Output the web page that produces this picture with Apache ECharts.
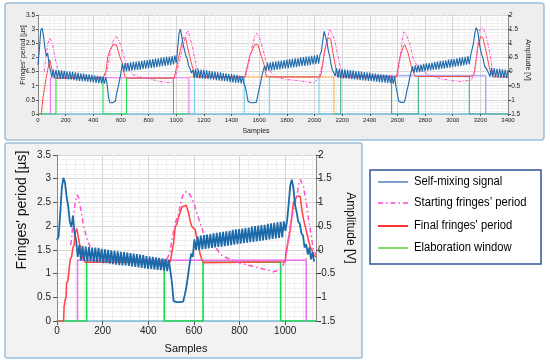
<!DOCTYPE html>
<html><head><meta charset="utf-8">
<script src="https://cdn.jsdelivr.net/npm/echarts/dist/echarts.min.js"></script>
<style>html,body{margin:0;padding:0;background:#fff}#c{width:550px;height:361px}</style>
</head><body><div id="c"></div>
<script>
// ---------- TOP CHART DATA (samples 0..3400) ----------
// Self-mixing signal [V], one value every 10 samples
const blueTopStep = 10;
const blueTopV = [
 0.24,0.80,1.45,1.54,1.25,0.85,0.55,0.65,0.25,0.05,
 -0.20,0.07,-0.23,0.06,-0.24,0.05,-0.25,0.04,-0.26,0.03,
 -0.27,0.01,-0.28,0.00,-0.29,-0.01,-0.30,-0.03,-0.32,-0.04,
 -0.33,-0.06,-0.34,-0.07,-0.35,-0.09,-0.36,-0.10,-0.37,-0.12,
 -0.38,-0.13,-0.40,-0.15,-0.41,-0.16,-0.42,-0.18,-0.43,-0.20,
 -0.45,-0.90,-1.10,-1.10,-1.10,-1.10,-1.05,-0.75,-0.55,-0.30,
 -0.05,0.28,0.00,0.30,0.01,0.31,0.02,0.33,0.03,0.34,
 0.05,0.35,0.06,0.37,0.07,0.38,0.09,0.40,0.10,0.41,
 0.12,0.43,0.13,0.44,0.14,0.46,0.16,0.47,0.17,0.49,
 0.19,0.50,0.20,0.52,0.22,0.53,0.23,0.55,0.25,0.57,
 0.30,0.80,1.35,1.50,1.25,0.95,0.75,0.55,0.45,0.20,
 0.10,-0.05,0.05,-0.22,0.10,-0.22,0.08,-0.24,0.07,-0.25,
 0.06,-0.26,0.04,-0.27,0.03,-0.28,0.01,-0.29,0.00,-0.30,
 -0.02,-0.32,-0.03,-0.33,-0.05,-0.34,-0.06,-0.35,-0.08,-0.37,
 -0.09,-0.38,-0.11,-0.39,-0.12,-0.40,-0.14,-0.42,-0.16,-0.44,
 -0.55,-0.80,-1.05,-1.10,-1.10,-1.10,-1.10,-1.10,-1.08,-0.85,
 -0.60,-0.40,-0.15,0.05,0.20,0.02,0.32,0.03,0.33,0.04,
 0.35,0.05,0.36,0.07,0.38,0.08,0.39,0.10,0.41,0.11,
 0.42,0.12,0.44,0.14,0.45,0.15,0.47,0.16,0.48,0.18,
 0.50,0.19,0.51,0.20,0.53,0.22,0.54,0.23,0.56,0.25,
 0.57,0.26,0.59,0.28,0.60,0.70,1.10,1.42,1.40,1.05,
 0.75,0.55,0.25,0.05,0.10,-0.15,0.12,-0.22,0.10,-0.23,
 0.09,-0.24,0.08,-0.25,0.06,-0.26,0.05,-0.27,0.04,-0.28,
 0.02,-0.29,0.01,-0.30,0.00,-0.31,-0.02,-0.32,-0.03,-0.33,
 -0.04,-0.34,-0.06,-0.35,-0.07,-0.36,-0.08,-0.37,-0.10,-0.38,
 -0.11,-0.39,-0.12,-0.40,-0.14,-0.41,-0.15,-0.43,-0.17,-0.55,
 -0.80,-1.05,-1.09,-1.09,-1.09,-1.08,-0.90,-0.65,-0.45,-0.20,
 0.00,0.18,-0.05,0.22,-0.03,0.24,-0.02,0.25,0.00,0.27,
 0.01,0.29,0.03,0.30,0.04,0.32,0.06,0.34,0.07,0.35,
 0.08,0.37,0.10,0.39,0.11,0.40,0.13,0.42,0.14,0.44,
 0.16,0.45,0.17,0.47,0.19,0.49,0.20,0.50,0.22,0.52,
 0.24,0.55,0.26,0.58,0.65,1.00,1.35,1.55,1.45,1.10,
 0.80,0.60,0.45,0.20,0.25,0.05,0.12,-0.18,0.13,-0.20,
 0.12,-0.20,0.10,-0.21,0.10,-0.22,0.08,-0.22,0.07,-0.23,
 0.05
];
// Final fringes' period [µs] : [sample, value]
const finalTop = [[0,0],[24,0],[30,0.3],[36,0.59],[45,0.85],[52,1.05],[61,1.33],[72,1.6],[85,1.92],[92,1.96],[100,1.6],[110,1.35],[125,1.27],[470,1.27],[490,1.5],[506,2.04],[520,2.25],[543,2.45],[567,2.45],[591,2.04],[610,1.8],[627,1.33],[645,1.27],[985,1.27],[1000,1.6],[1025,2.16],[1049,2.69],[1068,2.69],[1080,2.4],[1097,2.04],[1115,1.7],[1134,1.39],[1146,1.31],[1495,1.31],[1515,1.7],[1531,2.04],[1567,2.45],[1591,2.45],[1616,2.04],[1635,1.75],[1652,1.33],[1676,1.31],[2040,1.31],[2050,1.45],[2074,2.27],[2098,2.69],[2117,2.65],[2134,2.16],[2159,1.5],[2176,1.31],[2593,1.31],[2617,1.98],[2640,2.35],[2653,2.45],[2677,2.16],[2701,1.68],[2725,1.35],[2740,1.33],[3130,1.33],[3154,1.39],[3183,2.39],[3202,2.74],[3219,2.69],[3244,2.16],[3268,1.57],[3292,1.31],[3400,1.31]];
// Starting fringes' period [µs]
const startTop = [[45,1.5],[60,2.1],[72,2.51],[85,2.69],[104,2.51],[121,2.04],[145,1.51],[165,1.35],[200,1.3],[480,1.3],[500,1.5],[520,2.1],[545,2.6],[565,2.75],[590,2.55],[615,2.16],[639,1.74],[665,1.5],[688,1.39],[730,1.32],[784,1.27],[881,1.15],[965,1.1],[989,1.27],[1010,1.6],[1030,2.0],[1049,2.4],[1073,2.86],[1085,2.95],[1100,2.7],[1121,2.27],[1146,1.68],[1170,1.39],[1200,1.3],[1500,1.3],[1525,1.8],[1550,2.4],[1570,2.75],[1585,2.86],[1604,2.69],[1628,2.27],[1652,1.8],[1688,1.45],[1720,1.3],[1800,1.22],[1900,1.17],[1990,1.1],[2030,1.25],[2060,1.8],[2090,2.6],[2110,3.0],[2122,3.05],[2146,2.63],[2170,2.04],[2195,1.5],[2232,1.27],[2600,1.3],[2620,2.0],[2635,2.6],[2645,2.9],[2660,2.85],[2689,2.51],[2713,1.98],[2749,1.63],[2822,1.39],[2918,1.24],[3000,1.18],[3063,1.15],[3135,1.2],[3160,1.5],[3171,1.92],[3185,2.6],[3195,2.98],[3219,3.05],[3244,2.74],[3268,2.16],[3292,1.45],[3328,1.33],[3400,1.3]];
// Elaboration windows, one per cycle
const windowTop1 = [[0,0],[130,0],[130,1.27],[470,1.27],[470,0],[640,0],[640,1.27],[980,1.27],[980,0],[1092,0]];
const windowTop2 = [[1092,0],[1133,0],[1133,1.31],[1492,1.31],[1492,0],[1673,0],[1673,1.31],[2033,1.31],[2033,0],[2141,0]];
const windowTop3 = [[2141,0],[2190,0],[2190,1.33],[2558,1.33],[2558,0],[2751,0],[2751,1.33],[3120,1.33],[3120,0],[3400,0]];
// Cycle markers (start level / end)
const markTop1 = [[90,0],[90,1.28],[1092,1.28],[1092,0]];
const markTop2 = [[1092,1.31],[2141,1.31],[2141,0]];
const markTop3 = [[2141,1.35],[3239,1.35],[3239,0]];

// ---------- BOTTOM CHART DATA (samples 0..1135) ----------
const blueBotStep = 7;
const blueBotV = [
 0.21,0.28,0.75,1.30,1.52,1.42,1.12,0.92,0.60,0.48,
 0.72,0.35,0.20,-0.15,0.10,-0.22,0.08,-0.23,0.07,-0.25,
 0.06,-0.24,0.05,-0.26,0.05,-0.26,0.04,-0.25,0.02,-0.28,
 0.01,-0.28,0.00,-0.29,-0.01,-0.30,-0.02,-0.31,-0.03,-0.32,
 -0.04,-0.33,-0.05,-0.33,-0.06,-0.34,-0.07,-0.35,-0.08,-0.36,
 -0.09,-0.37,-0.10,-0.38,-0.11,-0.39,-0.13,-0.40,-0.14,-0.40,
 -0.15,-0.41,-0.16,-0.42,-0.17,-0.43,-0.18,-0.44,-0.19,-0.45,
 -0.21,-0.45,-0.70,-1.08,-1.10,-1.10,-1.10,-1.10,-1.10,-1.09,
 -0.95,-0.78,-0.55,-0.30,-0.08,-0.15,0.22,0.00,0.28,0.00,
 0.30,0.01,0.31,0.02,0.32,0.03,0.33,0.04,0.35,0.05,
 0.36,0.06,0.37,0.07,0.38,0.08,0.39,0.09,0.40,0.10,
 0.42,0.11,0.43,0.12,0.44,0.13,0.45,0.14,0.46,0.15,
 0.47,0.16,0.49,0.17,0.50,0.18,0.51,0.19,0.52,0.20,
 0.53,0.21,0.55,0.22,0.56,0.23,0.57,0.24,0.58,0.25,
 0.59,0.26,0.60,0.40,0.60,0.95,1.35,1.48,1.30,0.95,
 0.80,0.60,0.55,0.35,0.30,0.05,0.12,-0.10,0.05,-0.20,
 -0.05,-0.25
];
const finalBot = [[0,0],[29,0],[31,0.3],[36,0.45],[40,0.5],[42,0.8],[48,0.85],[52,1.05],[58,1.3],[64,1.35],[70,1.55],[75,1.6],[80,1.85],[87,1.95],[94,1.97],[96,1.7],[102,1.55],[108,1.4],[117,1.29],[125,1.24],[470,1.24],[497,1.25],[505,1.5],[511,1.64],[518,1.99],[526,2.05],[533,2.2],[540,2.3],[548,2.41],[556,2.44],[566,2.44],[572,2.35],[577,2.27],[584,2.1],[591,1.99],[606,1.92],[613,1.75],[620,1.57],[628,1.4],[635,1.29],[642,1.23],[1000,1.25],[1004,1.45],[1010,1.6],[1016,1.75],[1022,1.92],[1029,2.2],[1036,2.49],[1043,2.55],[1051,2.63],[1066,2.63],[1073,2.34],[1080,2.15],[1088,1.99],[1095,1.85],[1102,1.71],[1110,1.55],[1117,1.5],[1124,1.4],[1135,1.35]];
const startBot = [[60,1.6],[65,1.78],[72,2.2],[80,2.5],[88,2.66],[95,2.6],[102,2.41],[110,2.2],[117,1.99],[128,1.8],[139,1.64],[150,1.5],[160,1.43],[180,1.35],[220,1.3],[480,1.28],[495,1.45],[505,1.75],[518,2.06],[533,2.27],[545,2.55],[555,2.7],[569,2.73],[580,2.68],[591,2.59],[602,2.45],[613,2.27],[628,2.06],[642,1.85],[656,1.78],[671,1.71],[693,1.57],[710,1.45],[725,1.37],[760,1.3],[803,1.22],[861,1.15],[920,1.08],[949,1.04],[970,1.07],[985,1.11],[1000,1.29],[1008,1.5],[1015,1.78],[1022,2.0],[1029,2.2],[1040,2.45],[1051,2.63],[1060,2.88],[1066,2.98],[1073,2.95],[1080,2.84],[1088,2.62],[1095,2.41],[1102,2.15],[1110,1.92],[1117,1.7],[1124,1.5],[1135,1.4]];
const windowBot = [[0,0],[130,0],[130,1.24],[470,1.24],[470,0],[640,0],[640,1.24],[980,1.24],[980,0],[1135,0]];
const markBot1 = [[90,0],[90,1.28],[1092,1.28],[1092,0]];
const markBot2 = [[1088,1.31],[1098,1.31]];

// ---------- LEGEND ----------
const legendNames = ['Self-mixing signal','Starting fringes\u2019 period','Final fringes\u2019 period','Elaboration window'];

// colours
const C_BLUE='#1d6aab', C_START='#ff4fd0', C_FINAL='#ff4848', C_WIN1='#14dc46', C_WIN2='#66ccee', C_WIN3='#2aa88e',
      C_MARK1='#f06cf0', C_MARK2='#ffa640', C_MARK3='#8c8cff';

function ln(name,data,xi,yi,color,width,type){
  return {type:'line',name,data,xAxisIndex:xi,yAxisIndex:yi,symbol:'none',silent:true,animation:false,
    lineStyle:{color,width,type:type||'solid'},itemStyle:{color}};
}
const blueTop = blueTopV.map((v,i)=>[i*blueTopStep,v]);
const blueBot = blueBotV.map((v,i)=>[i*blueBotStep,v]);

const FONT = 'Liberation Sans, Arial, sans-serif';
const TXT = '#222';
const plain = v => String(v);
function xAx(gi,max,fs){
  return {gridIndex:gi,type:'value',min:0,max,interval:200,
    axisLine:{show:true,onZero:false,lineStyle:{color:'#7bbbd6',width:1.5}},
    axisTick:{show:true,length:gi?4:2,lineStyle:{color:'#555'}},
    axisLabel:{fontSize:fs,color:TXT,margin:gi?5:3,fontFamily:FONT,formatter:plain,showMaxLabel:gi?false:true},
    splitLine:{show:true,lineStyle:{color:'#d6d6d6',width:1}},
    minorTick:{show:false,splitNumber:5},
    minorSplitLine:{show:true,lineStyle:{color:'#f0f0f0',width:1}}};
}
function yLeft(gi,fs){
  return {gridIndex:gi,type:'value',min:0,max:3.5,interval:0.5,position:'left',
    axisLine:{show:true,lineStyle:{color:'#888'}},
    axisTick:{show:true,length:gi?4:2,lineStyle:{color:'#555'}},
    axisLabel:{fontSize:fs,color:TXT,margin:gi?6:3,fontFamily:FONT,formatter:plain},
    splitLine:{show:true,lineStyle:{color:'#d6d6d6'}},
    minorTick:{show:false,splitNumber:5},
    minorSplitLine:{show:true,lineStyle:{color:'#f0f0f0'}}};
}
function yRight(gi,fs){
  return {gridIndex:gi,type:'value',min:-1.5,max:2,interval:0.5,position:'right',
    axisLine:{show:true,lineStyle:{color:'#888'}},
    axisTick:{show:true,length:gi?5:3,lineStyle:{color:'#555'}},
    axisLabel:{fontSize:fs,color:TXT,margin:gi?2:1,fontFamily:FONT,formatter:plain},
    splitLine:{show:false}};
}
function legText(i,y){
  return {type:'text',z:11,x:414,y:y,scaleX:0.9,style:{text:legendNames[i],fontSize:12.5,fontFamily:FONT,fill:'#000',verticalAlign:'middle'}};
}

const option = {
  backgroundColor:'#ffffff',
  animation:false,
  grid:[
    {left:38,top:15,width:470,height:99,show:true,backgroundColor:'#ffffff',borderWidth:0},
    {left:57,top:155,width:259,height:166,show:true,backgroundColor:'#ffffff',borderWidth:0}
  ],
  xAxis:[xAx(0,3400,6),xAx(1,1135,10)],
  yAxis:[yLeft(0,6.5),yRight(0,6.5),yLeft(1,10),yRight(1,10)],
  graphic:[
    {type:'rect',z:-10,shape:{x:5,y:3,width:539,height:137,r:3},style:{fill:'#eeeeee',stroke:'#9cc0dc',lineWidth:1.5}},
    {type:'rect',z:-10,shape:{x:5,y:143,width:357,height:215,r:2},style:{fill:'#f2f2f2',stroke:'#9cc0dc',lineWidth:1.5}},
    {type:'text',z:5,x:23,y:55,rotation:Math.PI/2,style:{text:'Fringes\' period [\u00b5s]',fontSize:7,fontFamily:FONT,fill:TXT,align:'center',verticalAlign:'middle'}},
    {type:'text',z:5,x:528,y:60,rotation:-Math.PI/2,style:{text:'Amplitude [V]',fontSize:7,fontFamily:FONT,fill:TXT,align:'center',verticalAlign:'middle'}},
    {type:'text',z:5,x:256,y:131,style:{text:'Samples',fontSize:7,fontFamily:FONT,fill:TXT,align:'center',verticalAlign:'middle'}},
    {type:'text',z:5,x:22,y:210,rotation:Math.PI/2,style:{text:'Fringes\' period [\u00b5s]',fontSize:14,fontFamily:FONT,fill:'#111',align:'center',verticalAlign:'middle'}},
    {type:'text',z:5,x:350,y:228,rotation:-Math.PI/2,style:{text:'Amplitude [V]',fontSize:12,fontFamily:FONT,fill:'#111',align:'center',verticalAlign:'middle'}},
    {type:'text',z:5,x:186,y:349,style:{text:'Samples',fontSize:11,fontFamily:FONT,fill:'#111',align:'center',verticalAlign:'middle'}},
    {type:'rect',z:10,shape:{x:370,y:170,width:171,height:94},style:{fill:'#ffffff',stroke:'#2f5597',lineWidth:1.5}},
    {type:'line',z:11,shape:{x1:378,y1:182,x2:408,y2:182},style:{stroke:'#4f81bd',lineWidth:1.5}},
    {type:'line',z:11,shape:{x1:378,y1:203,x2:408,y2:203},style:{stroke:'#ff44cc',lineWidth:1.5,lineDash:[5,3,1.5,3]}},
    {type:'line',z:11,shape:{x1:378,y1:226,x2:408,y2:226},style:{stroke:'#ff3030',lineWidth:2}},
    {type:'line',z:11,shape:{x1:378,y1:248,x2:408,y2:248},style:{stroke:'#66cc33',lineWidth:1.5}},
    legText(0,182), legText(1,203), legText(2,226), legText(3,248)
  ],
  series:[
    ln('Elaboration window',windowTop1,0,0,C_WIN1,1),
    ln('Elaboration window 2',windowTop2,0,0,C_WIN2,1),
    ln('Elaboration window 3',windowTop3,0,0,C_WIN3,1),
    ln('Cycle 1 marker',markTop1,0,0,C_MARK1,1),
    ln('Cycle 2 marker',markTop2,0,0,C_MARK2,1),
    ln('Cycle 3 marker',markTop3,0,0,C_MARK3,1),
    ln(legendNames[2],finalTop,0,0,C_FINAL,1),
    ln(legendNames[1],startTop,0,0,C_START,1,[3,1.5,1,1.5]),
    ln(legendNames[0],blueTop,0,1,C_BLUE,1.1),

    ln('Elaboration window',windowBot,1,2,C_WIN1,1.6),
    ln('Cycle 1 marker',markBot1,1,2,C_MARK1,1.5),
    ln('Cycle 2 marker',markBot2,1,2,C_MARK2,1.5),
    ln(legendNames[2],finalBot,1,2,C_FINAL,1.6),
    ln(legendNames[1],startBot,1,2,C_START,1.5,[5,3,1.5,3]),
    ln(legendNames[0],blueBot,1,3,C_BLUE,1.8)
  ]
};
const chart = echarts.init(document.getElementById('c'),null,{renderer:'canvas'});
chart.setOption(option);
</script></body></html>
